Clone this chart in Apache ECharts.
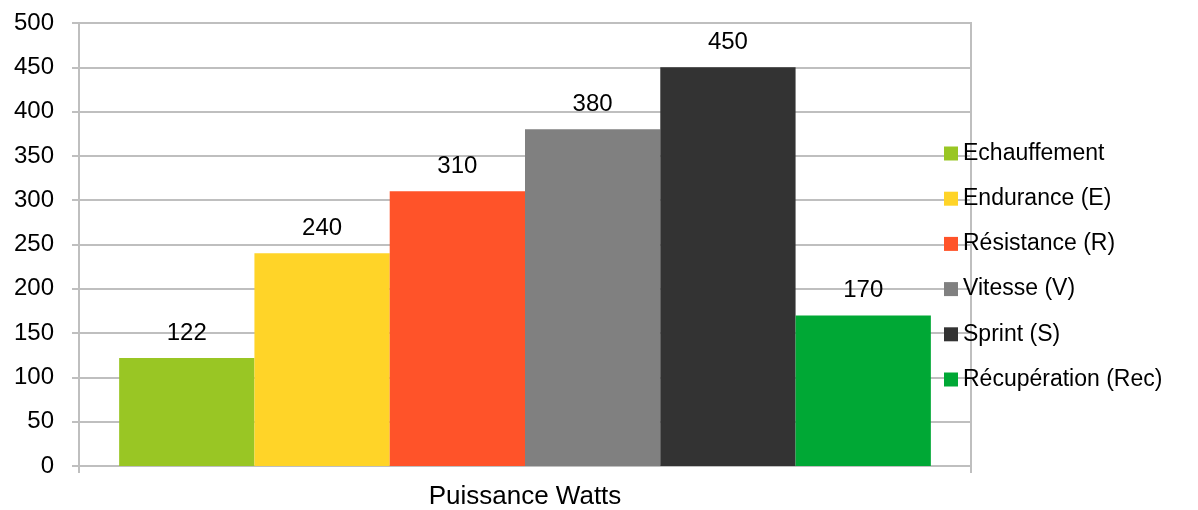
<!DOCTYPE html>
<html>
<head>
<meta charset="utf-8">
<script src="https://cdn.jsdelivr.net/npm/echarts@6/dist/echarts.min.js"></script>
<style>
  html, body { margin: 0; padding: 0; background: #fff; }
  #chart { width: 1198px; height: 510px; }
</style>
</head>
<body>
<div id="chart"></div>
<script>
  // data
  const categories = ['Puissance Watts']
  const seriesNames = ['Echauffement', 'Endurance (E)', 'Résistance (R)', 'Vitesse (V)', 'Sprint (S)', 'Récupération (Rec)']
  const seriesValues = [122, 240, 310, 380, 450, 170]
  const seriesColors = ['#99c624', '#ffd428', '#ff5329', '#808080', '#333333', '#00a835']

  const font = 'Liberation Sans, Arial, sans-serif'
  const lineColor = '#bfbfbf'

  let myChart = echarts.init(document.getElementById('chart'))

  let series = seriesNames.map((name, i) => {
    return {
      name: name,
      type: 'bar',
      data: [seriesValues[i]],
      barGap: '0%',
      barCategoryGap: '9%',
      itemStyle: { color: seriesColors[i] },
      label: {
        show: true,
        position: 'top',
        distance: 13,
        color: '#000',
        fontSize: 24,
        fontFamily: font
      }
    }
  })

  let option = {
    animation: false,
    textStyle: { fontFamily: font },
    grid: {
      left: 79,
      right: 227,
      top: 23,
      bottom: 43,
      show: true,
      borderColor: lineColor,
      borderWidth: 2
    },
    legend: {
      orient: 'vertical',
      left: 939,
      top: 137,
      itemWidth: 14,
      itemHeight: 14,
      itemGap: 22.2,
      icon: 'rect',
      textStyle: { fontSize: 23, lineHeight: 22, color: '#000' },
      data: seriesNames
    },
    xAxis: {
      type: 'category',
      data: categories,
      axisLine: { lineStyle: { color: lineColor, width: 2 } },
      axisTick: { show: true, length: 7, lineStyle: { color: lineColor, width: 2 } },
      axisLabel: { color: '#000', fontSize: 26, margin: 18 }
    },
    yAxis: {
      type: 'value',
      min: 0,
      max: 500,
      interval: 50,
      axisLine: { show: true, lineStyle: { color: lineColor, width: 2 } },
      axisTick: { show: true, length: 7, lineStyle: { color: lineColor, width: 2 } },
      axisLabel: { color: '#000', fontSize: 24, margin: 25 },
      splitLine: { show: true, lineStyle: { color: lineColor, width: 2 } }
    },
    series: series
  }

  myChart.setOption(option)
</script>
</body>
</html>
